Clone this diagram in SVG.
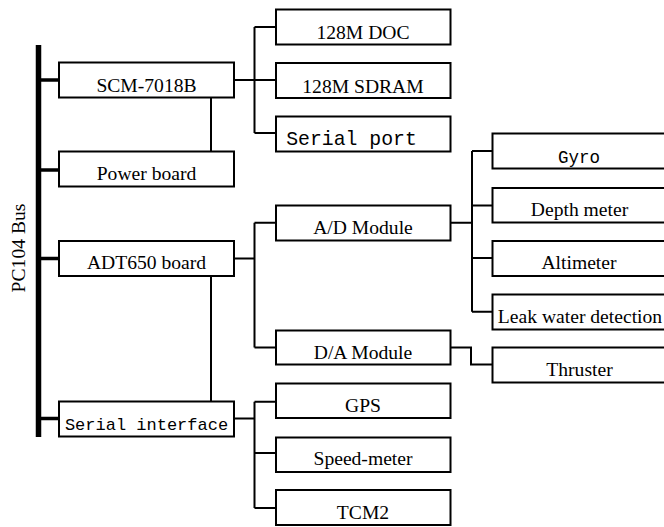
<svg xmlns="http://www.w3.org/2000/svg" width="664" height="527" viewBox="0 0 664 527">
<style>
.box{fill:#fff;stroke:#000;stroke-width:2}
.t{font-family:"Liberation Serif","Times New Roman",serif;font-size:19.6px;fill:#000;text-anchor:middle}
.m{font-family:"Liberation Mono","Courier New",monospace;fill:#000;text-anchor:middle}
.c{fill:none;stroke:#000;stroke-width:2}
.s{fill:none;stroke:#000;stroke-width:3.5}
</style>
<rect width="664" height="527" fill="#fff"/>
<g id="bus">
<line x1="38.5" y1="45" x2="38.5" y2="437" stroke="#000" stroke-width="5.5"/>
<text class="t" transform="translate(25,248) rotate(-90)">PC104 Bus</text>
</g>
<g id="connectors">
<path class="s" d="M41 80H59M41 170H59M41 258.5H59M41 418.5H59"/>
<path class="c" d="M211 98V151.5M211 276V401.5"/>
<path class="c" d="M234 80H254.5M254.5 27V133M254.5 27H276M254.5 80H276M254.5 133H276"/>
<path class="c" d="M234 258.5H254.5M254.5 222.7V347.5M254.5 222.7H276M254.5 347.5H276"/>
<path class="c" d="M450 222.7H472M472 151V311.7M472 151H492.5M472 205.5H492.5M472 258H492.5M472 311.7H492.5"/>
<path class="c" d="M450 347.5H471V364.5H492.5"/>
<path class="c" d="M234 418.5H254.5M254.5 401.7V508M254.5 401.7H276M254.5 453H276M254.5 508H276"/>
</g>
<g id="scm"><rect class="box" x="59" y="62.5" width="175" height="35"/><text class="t" x="146.5" y="91.5">SCM-7018B</text></g>
<g id="power"><rect class="box" x="59" y="151.5" width="175" height="35"/><text class="t" x="146.5" y="180">Power board</text></g>
<g id="adt650"><rect class="box" x="59" y="241" width="175" height="35"/><text class="t" x="146.5" y="269">ADT650 board</text></g>
<g id="serialif"><rect class="box" x="59" y="401.5" width="175" height="35"/><text class="m" x="146.5" y="429.5" font-size="17">Serial interface</text></g>
<g id="doc"><rect class="box" x="276" y="9.5" width="174.5" height="35"/><text class="t" x="363" y="39">128M DOC</text></g>
<g id="sdram"><rect class="box" x="276" y="63" width="174.5" height="35"/><text class="t" x="363" y="92.5">128M SDRAM</text></g>
<g id="serialport"><rect class="box" x="276" y="116.5" width="174.5" height="35"/><text class="m" x="351.5" y="144.5" font-size="19.8">Serial port</text></g>
<g id="ad"><rect class="box" x="276" y="205.5" width="174.5" height="35"/><text class="t" x="363" y="234">A/D Module</text></g>
<g id="da"><rect class="box" x="276" y="330.5" width="174.5" height="34"/><text class="t" x="363" y="358.5">D/A Module</text></g>
<g id="gps"><rect class="box" x="276" y="383.5" width="174.5" height="34.5"/><text class="t" x="363" y="411.5">GPS</text></g>
<g id="speed"><rect class="box" x="276" y="437.5" width="174.5" height="34.5"/><text class="t" x="363" y="465">Speed-meter</text></g>
<g id="tcm2"><rect class="box" x="276" y="490" width="174.5" height="35"/><text class="t" x="363" y="518.5">TCM2</text></g>
<g id="gyro"><rect class="box" x="492.5" y="133.5" width="174" height="35"/><text class="m" x="579" y="162.5" font-size="17.5">Gyro</text></g>
<g id="depth"><rect class="box" x="492.5" y="188" width="174" height="34.5"/><text class="t" x="579.5" y="215.5">Depth meter</text></g>
<g id="alt"><rect class="box" x="492.5" y="241" width="174" height="35"/><text class="t" x="579" y="268.5">Altimeter</text></g>
<g id="leak"><rect class="box" x="492.5" y="294.5" width="174" height="35"/><text class="t" x="580" y="322.5">Leak water detection</text></g>
<g id="thruster"><rect class="box" x="492.5" y="347.5" width="174" height="35"/><text class="t" x="579.5" y="376">Thruster</text></g>
</svg>
